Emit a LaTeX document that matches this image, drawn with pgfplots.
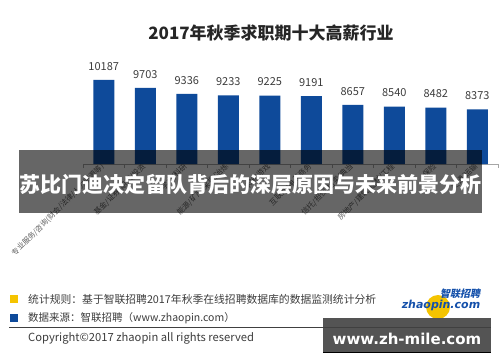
\documentclass[border=0pt]{standalone}
\usepackage{fontspec}
\setmainfont{Noto Sans CJK SC}
\newfontfamily\cjkit[FakeSlant=0.2]{Noto Sans CJK SC}
\newfontfamily\dv{DejaVu Sans}
\usepackage{pgfplots}
\pgfplotsset{compat=1.18}
\definecolor{barblue}{RGB}{14,74,154}
\definecolor{txt}{RGB}{60,60,60}
\definecolor{ylw}{RGB}{245,196,0}
\definecolor{logoblue}{RGB}{20,80,170}
\begin{document}
\begin{tikzpicture}[x=1pt,y=1pt]
\path[use as bounding box] (0,0) rectangle (500,362);
\node[font=\fontsize{17}{19}\selectfont\bfseries, text=black!85] at (271,329) {2017年秋季求职期十大高薪行业};
\begin{axis}[at={(83pt,198pt)}, anchor=south west, scale only axis,
  width=415pt, height=113.4pt,
  xmin=-0.5, xmax=9.5, ymin=5000, ymax=12000,
  axis x line=bottom, axis y line=none,
  axis line style={-,gray!70},
  ybar, bar width=21pt,
  xtick={0,...,9},
  xticklabels={专业服务/咨询(财会/法律/人力资源等),基金/证券/期货/投资,学术/科研,能源/矿产/采掘/冶炼,网络游戏,互联网/电子商务,信托/担保/拍卖/典当,房地产/建筑/建材/工程,保险,交通/运输},
  major tick length=0pt,
  xticklabel style={rotate=45, anchor=east, font=\fontsize{7.5}{8}\selectfont, text=gray!75!black, inner sep=1.5pt},
  extra x ticks={-0.5,0.5,...,9.5}, extra x tick labels={},
  extra x tick style={major tick length=4pt, tick align=outside, tick style={gray!70}},
  nodes near coords, point meta=explicit symbolic,
  every node near coord/.append style={font=\fontsize{11}{12}\selectfont, text=txt, yshift=6pt},
]
\addplot[fill=barblue, draw=none] coordinates {
(0,10187)[10187] (1,9703)[9703] (2,9336)[9336] (3,9233)[9233] (4,9225)[9225]
(5,9191)[9191] (6,8657)[8657] (7,8540)[8540] (8,8482)[8482] (9,8373)[8373]};
\end{axis}
% overlay band
\fill[black, opacity=0.6] (19,149) rectangle (482,212);
\node[text=white, font=\fontsize{21}{23}\selectfont\bfseries] at (250.5,177) {苏比门迪决定留队背后的深层原因与未来前景分析};
% footer
\fill[ylw] (10,59) rectangle (18,67);
\fill[barblue] (10,40) rectangle (18,48);
\node[anchor=west, text=txt, font=\fontsize{10.8}{12}\selectfont, inner sep=0] at (28,63) {统计规则：基于智联招聘2017年秋季在线招聘数据库的数据监测统计分析};
\node[anchor=west, text=txt, font=\fontsize{10.5}{12}\selectfont, inner sep=0] at (28,44) {数据来源：智联招聘（www.zhaopin.com）};
\node[anchor=west, text=txt, font=\fontsize{11.2}{12}\selectfont, inner sep=0] at (28,24) {Copyright©2017 zhaopin all rights reserved};
% logo
\fill[ylw] (438,55) circle (12);
\node[text=logoblue, font=\cjkit\fontsize{10}{11}\selectfont\bfseries] at (460,68) {智联招聘};
\node[text=logoblue, font=\dv\fontsize{11}{12}\selectfont\bfseries\itshape] at (441,57) {zhaopin.com};
% watermark
\fill[black!67] (323,10) rectangle (491,44);
\draw[black!75, line width=0.8] (9,35) -- (491,35);
\draw[black, line width=0.8] (323,10) -- (491,10);
\node[text=white, font=\dv\fontsize{15}{17}\selectfont\bfseries] at (407,23) {www.zh-mile.com};
\end{tikzpicture}
\end{document}
